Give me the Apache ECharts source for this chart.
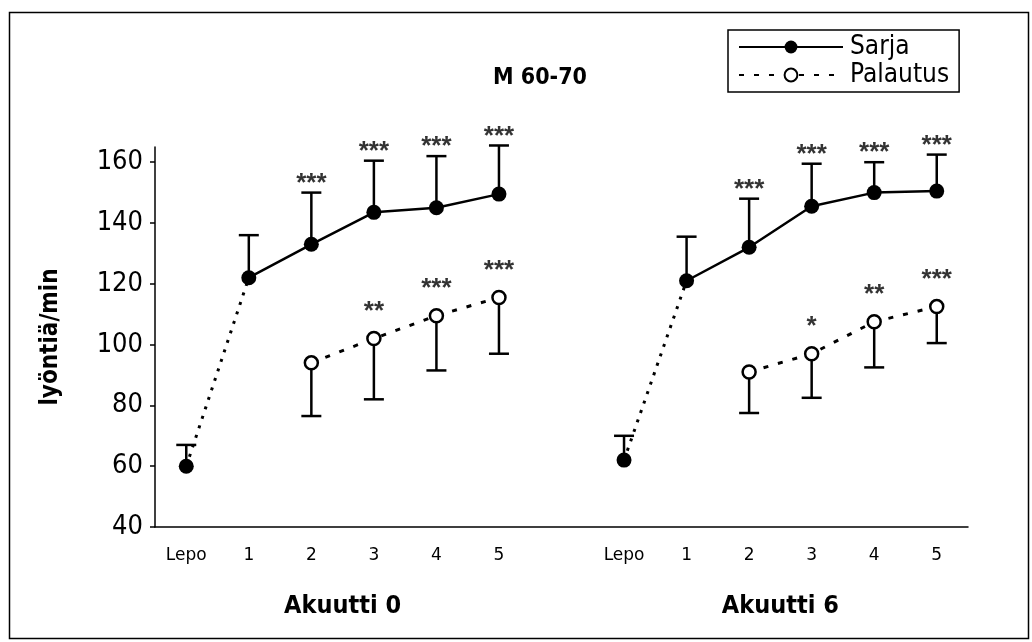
<!DOCTYPE html>
<html>
<head>
<meta charset="utf-8">
<script src="https://cdn.jsdelivr.net/npm/echarts@6/dist/echarts.min.js"></script>
<style>
  html, body { margin: 0; padding: 0; background: #fff; }
  #chart { width: 1032px; height: 642px; }
</style>
</head>
<body>
<div id="chart"></div>
<script>
// Heart rate (beats/min), age group M 60-70: rest, five work bouts ("Sarja")
// and the recovery after each bout ("Palautus"), for Akuutti 0 and Akuutti 6.
const categories = ['Lepo', '1', '2', '3', '4', '5', '', 'Lepo', '1', '2', '3', '4', '5'];
const groupNames = ['Akuutti 0', 'Akuutti 6'];

const sarjaMean = [60, 122, 133, 143.5, 145, 149.5, null, 62, 121, 132, 145.5, 150, 150.5];
const sarjaSD   = [7, 14, 17, 17, 17, 16, null, 8, 14.5, 16, 14, 10, 12];
const sarjaSig  = ['', '', '***', '***', '***', '***', '', '', '', '***', '***', '***', '***'];

const palautusMean = [null, null, 94, 102, 109.5, 115.5, null, null, null, 91, 97, 107.5, 112.5];
const palautusSD   = [null, null, 17.5, 20, 18, 18.5, null, null, null, 13.5, 14.5, 15, 12];
const palautusSig  = ['', '', '', '**', '***', '***', '', '', '', '', '*', '**', '***'];

const yTicks = [40, 60, 80, 100, 120, 140, 160];

const NARROW = '"Liberation Sans Narrow", "DejaVu Sans Condensed", "Liberation Sans", sans-serif';
const ROUND = '"DejaVu Sans", "Noto Sans", sans-serif';

const isRest = i => categories[i] === 'Lepo';

// Work-bout means joined by a solid line (rest points excluded)
const sarjaTrend = sarjaMean.map((v, i) => (isRest(i) ? null : v));
// Rest -> first bout joined by a dotted line; only the rest point gets a marker here
const restLink = sarjaMean.map((v, i) => {
  if (isRest(i)) return { value: v, symbol: 'circle' };
  if (i > 0 && isRest(i - 1)) return { value: v, symbol: 'none' };
  return null;
});

// Error bars: work bouts extend upward by one SD, recovery downward
const sarjaBars = [];
const palautusBars = [];
const sarjaStars = [];
const palautusStars = [];
categories.forEach((c, i) => {
  if (sarjaMean[i] != null) {
    sarjaBars.push([i, sarjaMean[i], sarjaMean[i] + sarjaSD[i]]);
    if (sarjaSig[i]) sarjaStars.push({ value: [i, sarjaMean[i] + sarjaSD[i]], sig: sarjaSig[i] });
  }
  if (palautusMean[i] != null) {
    palautusBars.push([i, palautusMean[i], palautusMean[i] - palautusSD[i]]);
    if (palautusSig[i]) palautusStars.push({ value: [i, palautusMean[i]], sig: palautusSig[i] });
  }
});

function renderErrorBar(params, api) {
  const x = api.value(0);
  const a = api.coord([x, api.value(1)]);
  const b = api.coord([x, api.value(2)]);
  const half = 10;
  const style = { stroke: '#000', lineWidth: 2.5, fill: 'none' };
  return {
    type: 'group',
    children: [
      { type: 'line', shape: { x1: a[0], y1: a[1], x2: b[0], y2: b[1] }, style },
      { type: 'line', shape: { x1: b[0] - half, y1: b[1], x2: b[0] + half, y2: b[1] }, style }
    ]
  };
}

const starLabel = (distance) => ({
  show: true,
  position: 'top',
  distance: distance,
  formatter: p => p.data.sig,
  color: '#000',
  fontSize: 26,
  fontWeight: 'bold',
  lineHeight: 26,
  fontFamily: '"Liberation Sans", sans-serif'
});

const chart = echarts.init(document.getElementById('chart'), null, { renderer: 'canvas' });

const option = {
  animation: false,
  backgroundColor: '#fff',
  grid: { left: 155, right: 64, top: 147, bottom: 115, containLabel: false },
  legend: {
    data: ['Sarja', 'Palautus'],
    orient: 'vertical',
    left: 728,
    top: 30,
    padding: [4, 10, 4, 10],
    itemGap: 2,
    itemWidth: 104,
    itemHeight: 16,
    borderColor: '#000',
    borderWidth: 1.5,
    backgroundColor: '#fff',
    selectedMode: false,
    textStyle: { fontFamily: NARROW, fontSize: 26, color: '#000', padding: [0, 0, 0, 2] }
  },
  xAxis: {
    type: 'category',
    data: categories,
    boundaryGap: true,
    axisLine: { lineStyle: { color: '#000', width: 1.5 } },
    axisTick: { show: false },
    axisLabel: { color: '#000', fontFamily: ROUND, fontSize: 17, margin: 20, interval: 0 },
    splitLine: { show: false }
  },
  yAxis: {
    type: 'value',
    min: 40,
    max: 165,
    interval: 20,
    name: 'lyöntiä/min',
    nameLocation: 'middle',
    nameRotate: 90,
    nameGap: 92,
    nameTextStyle: { fontFamily: NARROW, fontSize: 24, fontWeight: 'bold', color: '#000' },
    axisLine: { show: true, lineStyle: { color: '#000', width: 1.5 } },
    axisTick: { show: true, inside: false, length: 5, customValues: yTicks, lineStyle: { color: '#000', width: 1.5 } },
    axisLabel: { color: '#000', fontFamily: NARROW, fontSize: 27, margin: 12, customValues: yTicks },
    splitLine: { show: false }
  },
  series: [
    {
      name: 'Sarja errorbar',
      type: 'custom',
      renderItem: renderErrorBar,
      data: sarjaBars,
      encode: { x: 0, y: [1, 2] },
      clip: false,
      z: 2,
      silent: true
    },
    {
      name: 'Palautus errorbar',
      type: 'custom',
      renderItem: renderErrorBar,
      data: palautusBars,
      encode: { x: 0, y: [1, 2] },
      clip: false,
      z: 2,
      silent: true
    },
    {
      name: 'rest link',
      type: 'line',
      data: restLink,
      connectNulls: false,
      symbolSize: 15,
      itemStyle: { color: '#000' },
      lineStyle: { color: '#000', width: 3, type: [3, 7] },
      z: 3,
      silent: true
    },
    {
      name: 'Sarja',
      type: 'line',
      data: sarjaTrend,
      connectNulls: false,
      symbol: 'circle',
      symbolSize: 15,
      showAllSymbol: true,
      itemStyle: { color: '#000' },
      lineStyle: { color: '#000', width: 2.5 },
      z: 4
    },
    {
      name: 'Palautus',
      type: 'line',
      data: palautusMean,
      connectNulls: false,
      symbol: 'circle',
      symbolSize: 13,
      showAllSymbol: true,
      itemStyle: { color: '#fff', borderColor: '#000', borderWidth: 2.5 },
      lineStyle: { color: '#000', width: 3, type: [5, 10] },
      z: 4
    },
    {
      name: 'Sarja sig',
      type: 'scatter',
      data: sarjaStars,
      symbolSize: 0,
      clip: false,
      label: starLabel(-4),
      z: 5,
      silent: true
    },
    {
      name: 'Palautus sig',
      type: 'scatter',
      data: palautusStars,
      symbolSize: 0,
      clip: false,
      label: starLabel(14),
      z: 5,
      silent: true
    }
  ],
  graphic: [
    {
      type: 'rect',
      shape: { x: 9.5, y: 12.5, width: 1019, height: 626 },
      style: { fill: 'none', stroke: '#000', lineWidth: 1.5 },
      z: -1
    },
    {
      type: 'text',
      x: 540,
      y: 78,
      style: {
        text: 'M 60-70',
        fontFamily: NARROW,
        fontSize: 23,
        fontWeight: 'bold',
        fill: '#000',
        align: 'center',
        verticalAlign: 'middle'
      }
    }
  ]
};

chart.setOption(option);

// Group captions centred under each run of categories
const groups = [];
let start = 0;
categories.forEach((c, i) => {
  if (c === '') { groups.push([start, i - 1]); start = i + 1; }
});
groups.push([start, categories.length - 1]);
chart.setOption({
  graphic: option.graphic.concat(groups.map((g, k) => {
    const x0 = chart.convertToPixel({ xAxisIndex: 0 }, g[0]);
    const x1 = chart.convertToPixel({ xAxisIndex: 0 }, g[1]);
    return {
      type: 'text',
      x: (x0 + x1) / 2,
      y: 606,
      style: {
        text: groupNames[k],
        fontFamily: NARROW,
        fontSize: 25,
        fontWeight: 'bold',
        fill: '#000',
        align: 'center',
        verticalAlign: 'middle'
      }
    };
  }))
});
</script>
</body>
</html>
